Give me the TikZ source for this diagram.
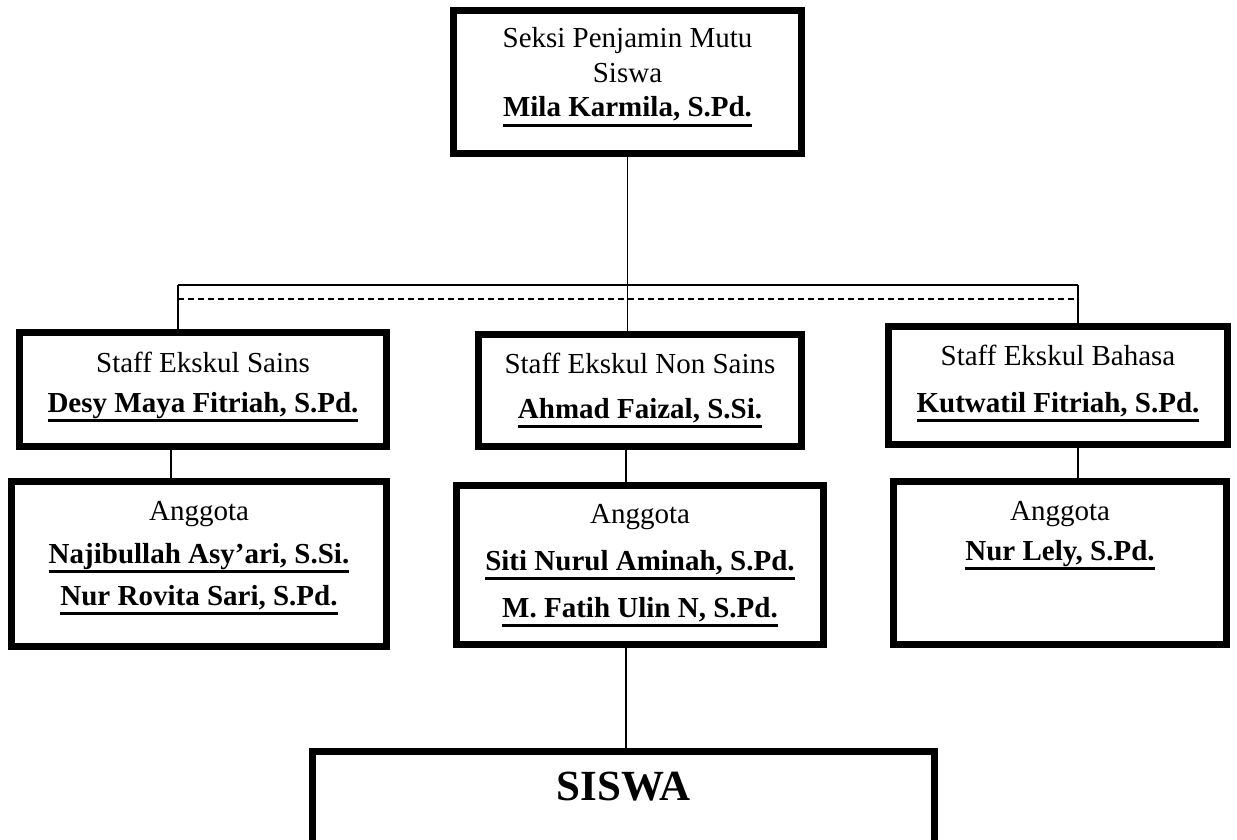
\documentclass[tikz,border=0pt]{standalone}
\usepackage{fontspec}
\setmainfont{Liberation Serif}
\newsavebox\ulbox
\newcommand\ulname[1]{\sbox\ulbox{\bfseries #1}\rlap{\rule[-10pt]{\wd\ulbox}{2.6pt}}\usebox\ulbox}
\tikzset{
  box/.style={draw=black, line width=7pt, rectangle, inner sep=0pt, fill=white},
  txt/.style={font=\fontsize{29}{35}\selectfont, inner sep=0pt, anchor=base},
  bigtxt/.style={font=\fontsize{43}{50}\selectfont\bfseries, inner sep=0pt, anchor=base},
  link/.style={line width=1.3pt},
  dashlink/.style={line width=1.3pt, dash pattern=on 6pt off 4pt}
}
\begin{document}
\begin{tikzpicture}[x=1pt, y=-1pt]
\useasboundingbox (0,0) rectangle (1237,840);
\clip (0,0) rectangle (1237,840);
\fill[white] (0,0) rectangle (1237,840);

% boxes
\node[box, minimum width=348pt, minimum height=143pt] (T) at (627.5,82) {};
\node[box, minimum width=367pt, minimum height=114pt] (L1) at (203,389.5) {};
\node[box, minimum width=375pt, minimum height=165pt] (L2) at (199,564) {};
\node[box, minimum width=323pt, minimum height=112pt] (C1) at (640,390.5) {};
\node[box, minimum width=367pt, minimum height=159pt] (C2) at (640,565) {};
\node[box, minimum width=339pt, minimum height=118pt] (R1) at (1058,385.5) {};
\node[box, minimum width=333pt, minimum height=163pt] (R2) at (1060,563) {};
\node[box, minimum width=622pt, minimum height=145pt] (S) at (623.5,824) {};

% texts
\node[txt] (Ta) at (627.5,48) {Seksi Penjamin Mutu};
\node[txt] (Tb) at (627.5,83) {Siswa};
\node[txt] (Tc) at (627.5,117) {\ulname{Mila Karmila, S.Pd.}};

\node[txt] (L1a) at (203,372) {Staff Ekskul Sains};
\node[txt] (L1b) at (203,412) {\ulname{Desy Maya Fitriah, S.Pd.}};
\node[txt] (L2a) at (199,520) {Anggota};
\node[txt] (L2b) at (199,563) {\ulname{Najibullah Asy’ari, S.Si.}};
\node[txt] (L2c) at (199,605) {\ulname{Nur Rovita Sari, S.Pd.}};

\node[txt] (C1a) at (640,373) {Staff Ekskul Non Sains};
\node[txt] (C1b) at (640,418) {\ulname{Ahmad Faizal, S.Si.}};
\node[txt] (C2a) at (640,523) {Anggota};
\node[txt] (C2b) at (640,570) {\ulname{Siti Nurul Aminah, S.Pd.}};
\node[txt] (C2c) at (640,617) {\ulname{M. Fatih Ulin N, S.Pd.}};

\node[txt] (R1a) at (1058,365) {Staff Ekskul Bahasa};
\node[txt] (R1b) at (1058,412) {\ulname{Kutwatil Fitriah, S.Pd.}};
\node[txt] (R2a) at (1060,520) {Anggota};
\node[txt] (R2b) at (1060,560) {\ulname{Nur Lely, S.Pd.}};

\node[bigtxt] (Sa) at (623.5,800) {SISWA};

% connectors
\coordinate (hl) at (178,285);
\coordinate (hr) at (1078,285);
\coordinate (dl) at (178,299);
\coordinate (dr) at (1077,299);
\coordinate (lc) at (171,0);
\coordinate (cc) at (626,0);

\draw[link] (T.south) -- (T.south |- C1.north);
\draw[link] (hl) -- (hr);
\draw[link] (hl) -- (hl |- L1.north);
\draw[link] (hr) -- (hr |- R1.north);
\draw[dashlink] (dl) -- (dr);
\draw[link] (lc |- L1.south) -- (lc |- L2.north);
\draw[link] (cc |- C1.south) -- (cc |- C2.north);
\draw[link] (cc |- C2.south) -- (cc |- S.north);
\draw[link] (hr |- R1.south) -- (hr |- R2.north);
\end{tikzpicture}
\end{document}
